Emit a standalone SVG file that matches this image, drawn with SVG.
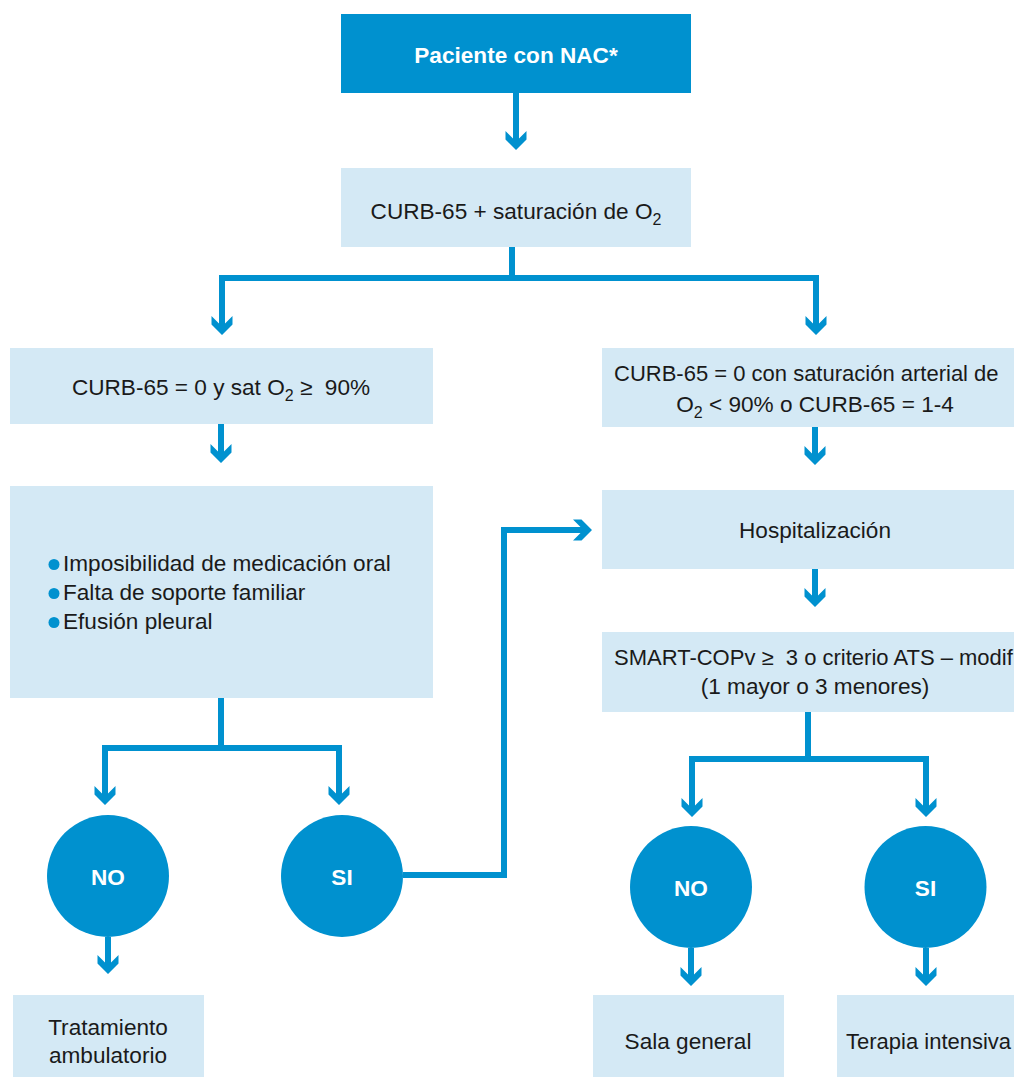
<svg xmlns="http://www.w3.org/2000/svg" width="1014" height="1077" viewBox="0 0 1014 1077">
  <style>
    .dark { fill: #0091CF; }
    .light { fill: #D4E9F5; }
    .txt { font-family: "Liberation Sans", Arial, sans-serif; font-size: 22.6px; fill: #1a1a1a; }
    .edge { font-size: 22px; }
    .mid { text-anchor: middle; }
    .wtxt { font-family: "Liberation Sans", Arial, sans-serif; font-size: 22.6px; font-weight: bold; fill: #ffffff; text-anchor: middle; }
    .sub { font-size: 16px; }
    .conn { fill: none; stroke: #0091CF; stroke-width: 6; stroke-linejoin: miter; stroke-linecap: butt; marker-end: url(#chev); }
  </style>
  <defs>
    <!-- thick chevron arrowhead; tip sits 4px past the line end -->
    <marker id="chev" markerUnits="userSpaceOnUse" orient="auto" refX="-4" refY="0" markerWidth="40" markerHeight="40" overflow="visible">
      <path d="M0,0 L-10.5,-10.5 L-19,-10.5 L-8.5,0 L-19,10.5 L-10.5,10.5 Z" fill="#0091CF"/>
    </marker>
  </defs>

  <rect width="1014" height="1077" fill="#ffffff"/>

  <!-- connectors -->
  <g id="connectors">
    <path class="conn" d="M516,93 V146"/>
    <path class="conn" d="M512,247 V278 H222 V331"/>
    <path class="conn" d="M512,278 H816 V331"/>
    <path class="conn" d="M221,424 V459"/>
    <path class="conn" d="M815,427 V461"/>
    <path class="conn" d="M815,569 V603"/>
    <path class="conn" d="M221,698 V748 H105 V801"/>
    <path class="conn" d="M221,748 H339 V801"/>
    <path class="conn" d="M108,937 V970"/>
    <path class="conn" d="M403,875 H504 V530 H588"/>
    <path class="conn" d="M808,712 V759 H692 V813"/>
    <path class="conn" d="M808,759 H926 V813"/>
    <path class="conn" d="M691,948 V982"/>
    <path class="conn" d="M926,948 V982"/>
  </g>

  <g id="paciente">
    <rect class="dark" x="341" y="14" width="350" height="79"/>
    <text class="wtxt" x="516" y="63">Paciente con NAC*</text>
  </g>

  <g id="curb65">
    <rect class="light" x="341" y="168" width="350" height="79"/>
    <text class="txt mid" x="516" y="219">CURB-65 + saturación de O<tspan class="sub" dy="6">2</tspan></text>
  </g>

  <g id="curb0">
    <rect class="light" x="10" y="348" width="423" height="76"/>
    <text class="txt mid" x="221" y="395">CURB-65 = 0 y sat O<tspan class="sub" dy="6">2</tspan><tspan dy="-6"> ≥&#160; 90%</tspan></text>
  </g>

  <g id="curb14">
    <rect class="light" x="602" y="348" width="420" height="79"/>
    <text class="txt edge" x="614" y="381">CURB-65 = 0 con saturación arterial de</text>
    <text class="txt mid" x="815" y="412">O<tspan class="sub" dy="6">2</tspan><tspan dy="-6"> &lt; 90% o CURB-65 = 1-4</tspan></text>
  </g>

  <g id="criterios">
    <rect class="light" x="10" y="486" width="423" height="212"/>
    <circle class="dark" cx="54" cy="564.5" r="5.5"/>
    <circle class="dark" cx="54" cy="593.5" r="5.5"/>
    <circle class="dark" cx="54" cy="622.5" r="5.5"/>
    <text class="txt" x="63" y="571">Imposibilidad de medicación oral</text>
    <text class="txt" x="63" y="600">Falta de soporte familiar</text>
    <text class="txt" x="63" y="629">Efusión pleural</text>
  </g>

  <g id="hospitalizacion">
    <rect class="light" x="602" y="490" width="420" height="79"/>
    <text class="txt mid" x="815" y="538">Hospitalización</text>
  </g>

  <g id="smartcop">
    <rect class="light" x="602" y="632" width="420" height="80"/>
    <text class="txt edge" x="614" y="665">SMART-COPv ≥&#160; 3 o criterio ATS – modif</text>
    <text class="txt mid" x="815" y="694">(1 mayor o 3 menores)</text>
  </g>

  <g id="no-left">
    <circle class="dark" cx="108" cy="876" r="61"/>
    <text class="wtxt" x="108" y="885">NO</text>
  </g>

  <g id="si-left">
    <circle class="dark" cx="342" cy="876" r="61"/>
    <text class="wtxt" x="342" y="885">SI</text>
  </g>

  <g id="no-right">
    <circle class="dark" cx="691" cy="887" r="61"/>
    <text class="wtxt" x="691" y="896">NO</text>
  </g>

  <g id="si-right">
    <circle class="dark" cx="925.5" cy="887" r="61"/>
    <text class="wtxt" x="925.5" y="896">SI</text>
  </g>

  <g id="ambulatorio">
    <rect class="light" x="13" y="995" width="191" height="82"/>
    <text class="txt mid" x="108" y="1035">Tratamiento</text>
    <text class="txt mid" x="108" y="1063">ambulatorio</text>
  </g>

  <g id="sala">
    <rect class="light" x="593" y="995" width="191" height="82"/>
    <text class="txt mid" x="688" y="1049">Sala general</text>
  </g>

  <g id="terapia">
    <rect class="light" x="837" y="995" width="185" height="82"/>
    <text class="txt edge" x="846" y="1049">Terapia intensiva</text>
  </g>
</svg>
